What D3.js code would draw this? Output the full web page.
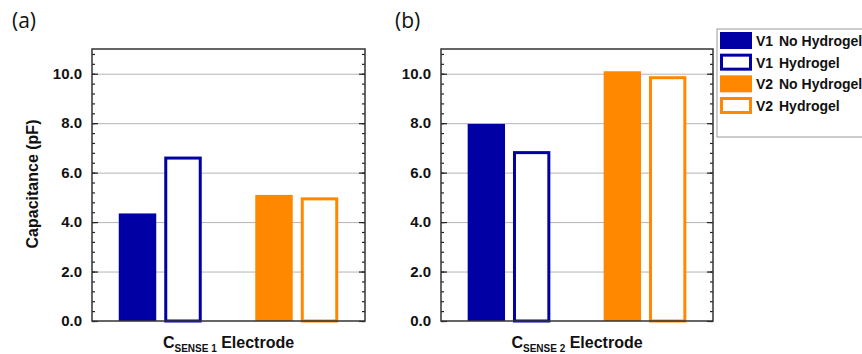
<!DOCTYPE html>
<html>
<head>
<meta charset="utf-8">
<script src="https://cdn.jsdelivr.net/npm/d3@7"></script>
<style>
  body { margin: 0; background: #fff; }
  svg { display: block; font-family: "Liberation Sans", Arial, sans-serif; }
</style>
</head>
<body>
<div id="chart"></div>
<script>
// Data
const versions = ['V1', 'V2'];
const conditions = ['No Hydrogel', 'Hydrogel'];
const panelLabels = ['(a)', '(b)'];
const electrodeSubs = ['SENSE 1', 'SENSE 2'];
// order: V1 No Hydrogel, V1 Hydrogel, V2 No Hydrogel, V2 Hydrogel
const sense1Values = [4.35, 6.65, 5.1, 5.0];
const sense2Values = [7.97, 6.87, 10.1, 9.9];
const yTicks = [0, 2, 4, 6, 8, 10];
const yMax = 11;

const colors = {V1: '#0000a5', V2: '#ff8800'};

const width = 862, height = 354;
const svg = d3.select('#chart').append('svg')
  .attr('width', width)
  .attr('height', height);

const plotH = 272;
const panels = [
  {left: 92, top: 49, w: 273, values: sense1Values, label: panelLabels[0], labelX: 12, sub: electrodeSubs[0]},
  {left: 441, top: 49, w: 272, values: sense2Values, label: panelLabels[1], labelX: 395, sub: electrodeSubs[1]}
];

const y = d3.scaleLinear().domain([0, yMax]).range([plotH, 0]);
const minorTicks = d3.range(0, yMax, 0.4);

function drawPanel(p) {
  const g = svg.append('g').attr('transform', 'translate(' + p.left + ',' + p.top + ')');

  // Outer band per version, inner band per condition
  const x0 = d3.scaleBand().domain(versions).range([0, p.w])
    .paddingInner(0.392).paddingOuter(0.196);
  const x1 = d3.scaleBand().domain(conditions).range([0, x0.bandwidth()])
    .paddingInner(0.176).paddingOuter(0);

  // Gridlines
  g.append('g')
    .call(d3.axisLeft(y).tickValues(yTicks.filter(d => d > 0)).tickSize(-p.w).tickFormat(''))
    .call(s => s.select('.domain').remove())
    .call(s => s.selectAll('line').attr('stroke', '#b4b4b4').attr('stroke-width', 1));

  // Bars
  const rows = [];
  versions.forEach((v, i) => conditions.forEach((c, j) => rows.push({v, c, value: p.values[i * 2 + j]})));

  g.selectAll('rect.bar')
    .data(rows)
    .enter()
    .append('rect')
    .attr('class', 'bar')
    .attr('x', d => x0(d.v) + x1(d.c) + (d.c === 'Hydrogel' ? 1.5 : 0))
    .attr('y', d => y(d.value) + (d.c === 'Hydrogel' ? 1.5 : 0))
    .attr('width', d => x1.bandwidth() - (d.c === 'Hydrogel' ? 3 : 0))
    .attr('height', d => plotH - y(d.value) - (d.c === 'Hydrogel' ? 1.5 : 0))
    .attr('fill', d => d.c === 'Hydrogel' ? '#fff' : colors[d.v])
    .attr('stroke', d => d.c === 'Hydrogel' ? colors[d.v] : 'none')
    .attr('stroke-width', 3);

  // Inward ticks, left and right
  const tickSets = [
    {axis: d3.axisRight, x: 0, minor: 3, major: 6},
    {axis: d3.axisLeft, x: p.w, minor: 3, major: 6}
  ];
  tickSets.forEach(t => {
    g.append('g').attr('transform', 'translate(' + t.x + ',0)')
      .call(t.axis(y).tickValues(minorTicks).tickSize(t.minor).tickFormat(''))
      .call(s => s.select('.domain').remove())
      .call(s => s.selectAll('line').attr('stroke', '#222').attr('stroke-width', 1.2));
    g.append('g').attr('transform', 'translate(' + t.x + ',0)')
      .call(t.axis(y).tickValues(yTicks).tickSize(t.major).tickFormat(''))
      .call(s => s.select('.domain').remove())
      .call(s => s.selectAll('line').attr('stroke', '#222').attr('stroke-width', 1.2));
  });

  // Tick labels
  g.append('g')
    .call(d3.axisLeft(y).tickValues(yTicks).tickSize(0).tickPadding(10).tickFormat(d3.format('.1f')))
    .call(s => s.select('.domain').remove())
    .call(s => s.selectAll('text')
      .attr('font-family', '"Liberation Sans", Arial, sans-serif')
      .attr('font-size', 15).attr('font-weight', 'bold').attr('fill', '#111'));

  // Frame
  g.append('rect')
    .attr('width', p.w).attr('height', plotH)
    .attr('fill', 'none').attr('stroke', '#333').attr('stroke-width', 1.5);

  // X title with subscript
  const t = g.append('text')
    .attr('x', p.w / 2).attr('y', plotH + 27)
    .attr('text-anchor', 'middle')
    .attr('font-weight', 'bold').attr('font-size', 16).attr('fill', '#111');
  t.append('tspan').text('C');
  t.append('tspan').attr('font-size', 10).attr('dy', 4).text(p.sub);
  t.append('tspan').attr('dy', -4).text('\u00a0Electrode');

  // Panel label
  svg.append('text')
    .attr('x', p.labelX).attr('y', 28)
    .attr('font-family', '"Open Sans", sans-serif')
    .attr('font-size', 21).attr('fill', '#111')
    .text(p.label);
}

panels.forEach(drawPanel);

// Y axis title
svg.append('text')
  .attr('transform', 'translate(38,184) rotate(-90)')
  .attr('text-anchor', 'middle')
  .attr('font-weight', 'bold').attr('font-size', 16).attr('fill', '#111')
  .text('Capacitance (pF)');

// Legend
const legendItems = [];
versions.forEach(v => conditions.forEach(c => legendItems.push({v, c})));

const legend = svg.append('g').attr('transform', 'translate(717,29)');
legend.append('rect')
  .attr('width', 200).attr('height', 108)
  .attr('fill', '#fff').attr('stroke', '#999').attr('stroke-width', 1);

const rowY = d3.scalePoint().domain(d3.range(legendItems.length)).range([3, 68]);

const item = legend.selectAll('g.item')
  .data(legendItems)
  .enter()
  .append('g')
  .attr('class', 'item')
  .attr('transform', (d, i) => 'translate(0,' + rowY(i) + ')');

item.append('rect')
  .attr('x', d => d.c === 'Hydrogel' ? 4.5 : 3)
  .attr('y', d => d.c === 'Hydrogel' ? 1.5 : 0)
  .attr('width', d => d.c === 'Hydrogel' ? 29 : 32)
  .attr('height', d => d.c === 'Hydrogel' ? 14 : 17)
  .attr('fill', d => d.c === 'Hydrogel' ? '#fff' : colors[d.v])
  .attr('stroke', d => d.c === 'Hydrogel' ? colors[d.v] : 'none')
  .attr('stroke-width', 3);

item.append('text')
  .attr('x', 39).attr('y', 14)
  .attr('font-weight', 'bold').attr('font-size', 14).attr('fill', '#111')
  .text(d => d.v);

item.append('text')
  .attr('x', 62).attr('y', 14)
  .attr('font-weight', 'bold').attr('font-size', 14).attr('fill', '#111')
  .text(d => d.c);
</script>
</body>
</html>
